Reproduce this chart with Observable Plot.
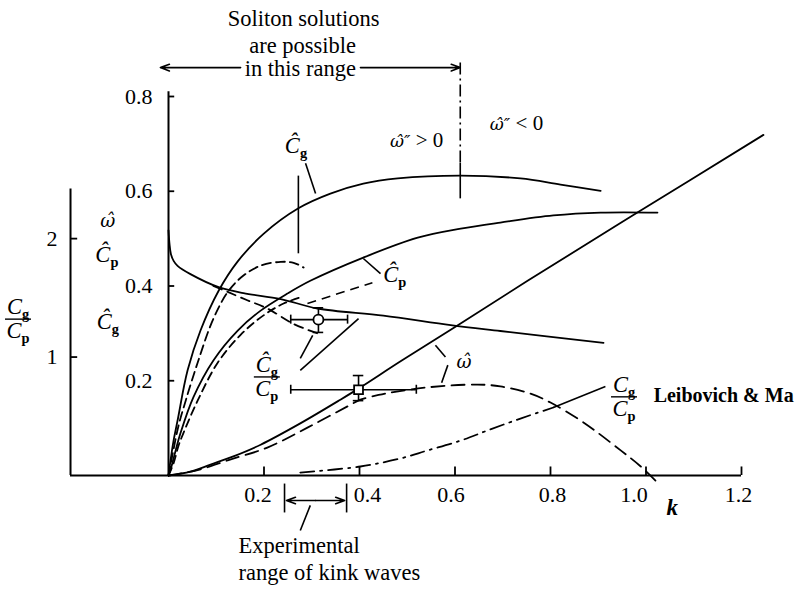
<!DOCTYPE html>
<html><head><meta charset="utf-8">
<script src="https://cdn.jsdelivr.net/npm/d3@7"></script>
<script src="https://cdn.jsdelivr.net/npm/@observablehq/plot@0.6"></script>
<style>html,body{margin:0;padding:0;background:#fff}#chart svg{display:block}</style>
</head><body><div id="chart"></div>
<script>
// ---------------- data ----------------
// wavenumber k, values on the inner axis (ω̂, Ĉp, Ĉg)
const cgSolidK = [0,0.004,0.010,0.019,0.040,0.067,0.105,0.145,0.199,0.272,0.339,0.408,0.480,0.612,0.737,0.821,0.905];
const cgSolidV = [0,0.030,0.070,0.116,0.222,0.306,0.390,0.452,0.510,0.564,0.595,0.616,0.627,0.633,0.627,0.614,0.601];
const cgDashK  = [0,0.008,0.021,0.036,0.061,0.094,0.126,0.157,0.193,0.235,0.262,0.283];
const cgDashV  = [0,0.042,0.105,0.158,0.238,0.331,0.390,0.422,0.443,0.451,0.449,0.439];
const cpSolidK = [0,0.004,0.015,0.025,0.052,0.094,0.145,0.193,0.249,0.297,0.408,0.522,0.612,0.695,0.806,0.905,1.024];
const cpSolidV = [0,0.011,0.053,0.089,0.165,0.243,0.306,0.348,0.384,0.411,0.460,0.502,0.521,0.534,0.549,0.555,0.555];
const cpDashK  = [0,0.011,0.021,0.031,0.061,0.103,0.151,0.199,0.241,0.276];
const cpDashV  = [0,0.027,0.063,0.089,0.158,0.238,0.297,0.338,0.363,0.376];
const omSolidK = [0,0.046,0.088,0.140,0.193,0.276,0.360,0.402,0.486,0.601,0.752,0.982,1.246];
const omSolidV = [0,0.008,0.023,0.042,0.065,0.110,0.160,0.186,0.241,0.314,0.411,0.555,0.719];
const omDashK  = [0,0.025,0.067,0.124,0.207,0.291,0.375,0.402,0.440,0.471,0.542,0.647,0.695,0.758,0.800,0.869,0.947,0.989,1.024];
const omDashV  = [0,0.004,0.013,0.032,0.059,0.101,0.146,0.160,0.170,0.176,0.186,0.192,0.188,0.173,0.154,0.112,0.053,0.019,-0.015];
// Cg/Cp on the outer axis
const ratioSolidK = [0,0.002,0.005,0.011,0.019,0.046,0.105,0.157,0.235,0.312,0.450,0.591,0.695,0.911];
const ratioSolidR = [2.07,1.96,1.87,1.81,1.77,1.70,1.59,1.54,1.49,1.41,1.35,1.27,1.22,1.12];
const ratioDashK  = [0.094,0.124,0.165,0.207,0.262,0.312];
const ratioDashR  = [1.60,1.55,1.48,1.41,1.28,1.20];
const leibMaK = [0.276,0.402,0.486,0.542,0.612,0.668,0.737,0.806];
const leibMaR = [0.025,0.076,0.144,0.211,0.295,0.380,0.481,0.574];
// experimental points (inner-axis units) with error ranges
const expShape = ["circle","square"];
const expK   = [0.314,0.398];
const expKLo = [0.256,0.256];
const expKHi = [0.375,0.519];
const expV   = [0.329,0.181];
const expVLo = [0.302,0.158];
const expVHi = [0.354,0.211];
// ranges
const solitonRange = [0, 0.611];
const kinkRange = [0.243, 0.373];
// ticks
const xTicks = [0.2,0.4,0.6,0.8,1.0,1.2];
const xTickLabels = ["0.2","0.4","0.6","0.8","1.0","1.2"];
const yTicks = [0.2,0.4,0.6,0.8];
const yTickLabels = ["0.2","0.4","0.6","0.8"];
const ratioTicks = [1,2];
const ratioTickLabels = ["1","2"];

// ---------------- layout ----------------
const RATIO = 0.25;           // 1 unit of Cg/Cp = 0.25 on the inner axis
const KOUT = -0.2052;         // k position of the outer Cg/Cp axis
const SERIF = "'Liberation Serif','Times New Roman',serif";
const GREEK = "'DejaVu Serif',serif";
const FS = 22.5;
const xLabelDx = [-6, 8, -4, 2, -12, -3];
const rows = (ks, vs, f = 1) => ks.map((k, i) => ({k, v: vs[i] * f}));
const exp = expK.map((k, i) => ({shape: expShape[i], k, kLo: expKLo[i], kHi: expKHi[i], v: expV[i], vLo: expVLo[i], vHi: expVHi[i]}));

const segs = [
  {k1:0.287,v1:0.659,k2:0.308,v2:0.595},
  {k1:0.272,v1:0.633,k2:0.272,v2:0.469},
  {k1:0.408,v1:0.458,k2:0.444,v2:0.426},
  {k1:0.276,v1:0.247,k2:0.302,v2:0.296},
  {k1:0.276,v1:0.222,k2:0.398,v2:0.331},
  {k1:0.559,v1:0.275,k2:0.580,v2:0.250},
  {k1:0.585,v1:0.233,k2:0.572,v2:0.196},
  {k1:0.806,v1:0.1435,k2:0.915,v2:0.188},
  {k1:solitonRange[1],v1:0.66,k2:solitonRange[1],v2:0.585},
  {k1:0.297,v1:-0.063,k2:0.276,v2:-0.116},
  {k1:kinkRange[0],v1:-0.017,k2:kinkRange[0],v2:-0.078},
  {k1:kinkRange[1],v1:-0.017,k2:kinkRange[1],v2:-0.078}
];
const dashSegs = [{k1:0.291,v1:0.363,k2:0.427,v2:0.407}];
const dashDotSegs = [{k1:solitonRange[1],v1:0.872,k2:solitonRange[1],v2:0.66}];
const arrows = [
  {k1:0.151,v1:0.861,k2:solitonRange[0]-0.017,v2:0.861},
  {k1:0.402,v1:0.861,k2:solitonRange[1],v2:0.861},
  {k1:0.308,v1:-0.0528,k2:kinkRange[0]+0.004,v2:-0.0528},
  {k1:0.308,v1:-0.0528,k2:kinkRange[1]-0.004,v2:-0.0528}
];

// math labels: parts {t, i: italic, sub: subscript, g: greek font}
const C = (s) => [{t:"C", i:true},{t:s, sub:true}];
const CH = (s) => [{t:"\u0108", i:true},{t:s, sub:true}];
const OM = [{t:"\u03c9\u0302", i:true, g:true}];
const mathItems = [
  {k:0.268, v:0.694, parts: CH("g")},
  {k:0.475, v:0.422, parts: CH("p")},
  {k:-0.126, v:0.538, parts: OM},
  {k:-0.128, v:0.464, parts: CH("p")},
  {k:-0.126, v:0.323, parts: CH("g")},
  {k:0.620, v:0.240, parts: OM},
  {k:0.465, v:0.707, parts: [{t:"\u03c9\u0302\u2033", i:true, g:true},{t:" > 0"}], anchor:"start", size:21},
  {k:0.674, v:0.743, parts: [{t:"\u03c9\u0302\u2033", i:true, g:true},{t:" < 0"}], anchor:"start", size:21},
  {k:-0.3141, v:0.329, frac: [C("g"), C("p")]},
  {k:0.207, v:0.207, frac: [CH("g"), C("p")]},
  {k:0.955, v:0.165, frac: [C("g"), C("p")]}
];

function drawParts(g, px, base, parts, size, anchor) {
  const t = g.append("text").attr("x", px).attr("y", base).attr("text-anchor", anchor).attr("font-size", size);
  for (const p of parts) {
    const s = t.append("tspan").text(p.t);
    if (p.i) s.attr("font-style", "italic");
    if (p.g) s.attr("font-family", GREEK).attr("font-size", size * 0.82);
    if (p.sub) s.attr("font-size", size * 0.64).attr("font-weight", "bold").attr("dy", size * 0.22);
  }
}
function mathMark(items) {
  return (index, scales) => {
    const g = d3.create("svg:g").attr("font-family", SERIF).attr("fill", "#000");
    for (const it of items) {
      const px = scales.x(it.k), py = scales.y(it.v);
      const size = it.size || FS;
      if (it.frac) {
        g.append("line").attr("x1", px - 13).attr("x2", px + 13).attr("y1", py).attr("y2", py)
          .attr("stroke", "#000").attr("stroke-width", 1.4);
        drawParts(g, px, py - 5, it.frac[0], size, "middle");
        drawParts(g, px, py + 19, it.frac[1], size, "middle");
      } else {
        drawParts(g, px, py + 7, it.parts, size, it.anchor || "middle");
      }
    }
    return g.node();
  };
}

const ink = {stroke: "#000"};
const line = (data, dash, sw = 1.8) => Plot.line(data, {x: "k", y: "v", curve: "catmull-rom", ...ink, strokeWidth: sw, strokeDasharray: dash});
const txt = (items, opts) => Plot.text(items, {x: "k", y: "v", text: "t", fontFamily: SERIF, fontSize: FS, fill: "#000", ...opts});

const chart = Plot.plot({
  width: 802, height: 589, margin: 0,
  style: {background: "#fff"},
  x: {domain: [0, 1.2], range: [168, 741], axis: null},
  y: {domain: [0, 0.8], range: [475, 96], axis: null},
  marks: [
    // axes
    Plot.ruleY([0], {x1: KOUT, x2: 1.2, ...ink, strokeWidth: 2}),
    Plot.ruleX([0], {y1: 0, y2: 0.81, ...ink, strokeWidth: 2}),
    Plot.ruleX([KOUT], {y1: 0, y2: 2.42 * RATIO, ...ink, strokeWidth: 2}),
    Plot.ruleX(xTicks, {x: d => d, y1: 0, y2: 0.018, ...ink, strokeWidth: 1.8}),
    Plot.ruleY(yTicks, {y: d => d, x1: 0, x2: 0.013, ...ink, strokeWidth: 1.8}),
    Plot.ruleY(ratioTicks, {y: d => d * RATIO, x1: KOUT, x2: KOUT + 0.015, ...ink, strokeWidth: 1.8}),
    ...xTicks.map((t, i) => Plot.text([t], {x: d => d, y: 0, text: () => xTickLabels[i], dx: xLabelDx[i], dy: 19, fontFamily: SERIF, fontSize: 22, fill: "#000"})),
    Plot.text(yTicks, {x: 0, y: d => d, text: (d, i) => yTickLabels[i], dx: -16, textAnchor: "end", fontFamily: SERIF, fontSize: 22, fill: "#000"}),
    Plot.text(ratioTicks, {x: KOUT, y: d => d * RATIO, text: (d, i) => ratioTickLabels[i], dx: -13, textAnchor: "end", fontFamily: SERIF, fontSize: 22, fill: "#000"}),
    // curves
    line(rows(cgSolidK, cgSolidV), null),
    line(rows(cgDashK, cgDashV), "9,5"),
    line(rows(cpSolidK, cpSolidV), null),
    line(rows(cpDashK, cpDashV), "8,5"),
    line(rows(omSolidK, omSolidV), null),
    line(rows(omDashK, omDashV), "13,7"),
    line(rows(ratioSolidK, ratioSolidR, RATIO), null),
    line(rows(ratioDashK, ratioDashR, RATIO), "9,6"),
    line(rows(leibMaK, leibMaR, RATIO), "14,6,2,6"),
    // annotation lines
    Plot.link(segs, {x1: "k1", y1: "v1", x2: "k2", y2: "v2", ...ink, strokeWidth: 1.6}),
    Plot.link(dashSegs, {x1: "k1", y1: "v1", x2: "k2", y2: "v2", ...ink, strokeWidth: 1.6, strokeDasharray: "9,6"}),
    Plot.link(dashDotSegs, {x1: "k1", y1: "v1", x2: "k2", y2: "v2", ...ink, strokeWidth: 1.6, strokeDasharray: "12,4,2,4"}),
    Plot.arrow(arrows, {x1: "k1", y1: "v1", x2: "k2", y2: "v2", ...ink, strokeWidth: 1.6, headLength: 9, headAngle: 40}),
    // experimental points with error bars
    Plot.ruleY(exp, {y: "v", x1: "kLo", x2: "kHi", ...ink, strokeWidth: 1.6}),
    Plot.ruleX(exp, {x: "k", y1: "vLo", y2: "vHi", ...ink, strokeWidth: 1.6}),
    Plot.ruleX(exp, {x: "kLo", y1: d => d.v - 0.0095, y2: d => d.v + 0.0095, ...ink, strokeWidth: 1.6}),
    Plot.ruleX(exp, {x: "kHi", y1: d => d.v - 0.0095, y2: d => d.v + 0.0095, ...ink, strokeWidth: 1.6}),
    Plot.ruleY(exp, {y: "vLo", x1: d => d.k - 0.011, x2: d => d.k + 0.011, ...ink, strokeWidth: 1.6}),
    Plot.ruleY(exp, {y: "vHi", x1: d => d.k - 0.011, x2: d => d.k + 0.011, ...ink, strokeWidth: 1.6}),
    Plot.dot(exp, {x: "k", y: "v", symbol: "shape", r: 5, fill: "#fff", ...ink, strokeWidth: 1.8}),
    // texts
    txt([{k:0.283, v:0.965, t:"Soliton solutions"}, {k:0.281, v:0.908, t:"are possible"}, {k:0.276, v:0.859, t:"in this range"}], {}),
    txt([{k:0.1466, v:-0.148, t:"Experimental"}, {k:0.1466, v:-0.205, t:"range of kink waves"}], {textAnchor: "start"}),
    txt([{k:1.016, v:0.169, t:"Leibovich & Ma"}], {textAnchor: "start", fontWeight: "bold", fontSize: 20}),
    txt([{k:1.055, v:-0.068, t:"k"}], {fontStyle: "italic", fontWeight: "bold", fontSize: 23}),
    mathMark(mathItems)
  ]
});
document.getElementById("chart").appendChild(chart);
</script>
</body></html>
